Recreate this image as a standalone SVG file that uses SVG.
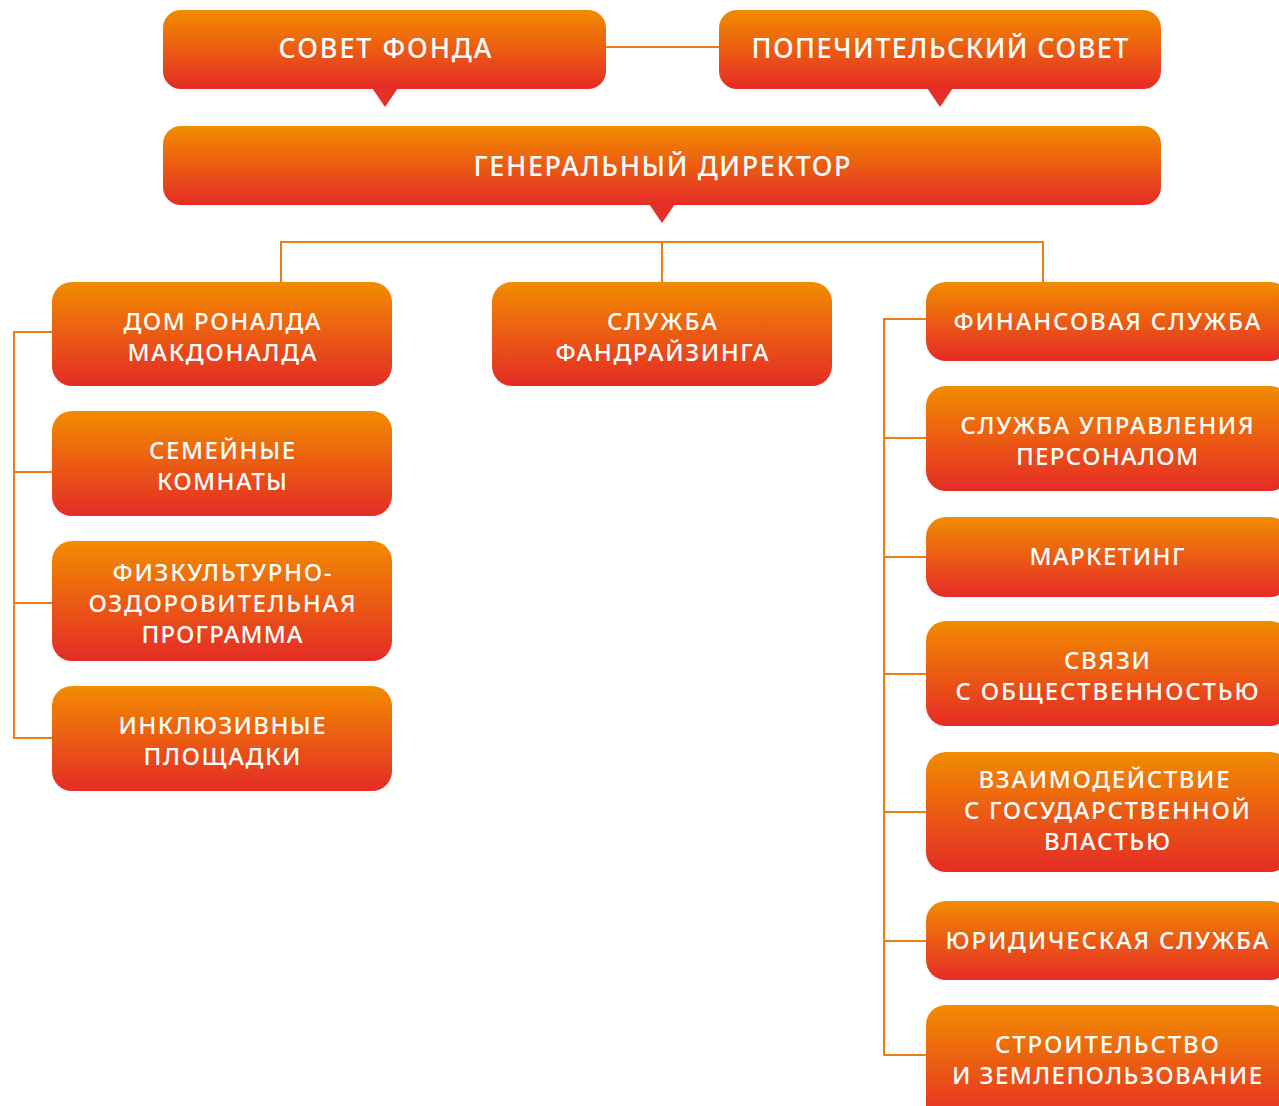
<svg xmlns="http://www.w3.org/2000/svg" width="1279" height="1106" viewBox="0 0 1279 1106">
<defs>
<linearGradient id="g" x1="0" y1="0" x2="0" y2="1">
<stop offset="0" stop-color="#F28C00"/>
<stop offset="1" stop-color="#E52B26"/>
</linearGradient>
<style>
.box{fill:url(#g)}
.ptr{fill:#E5302A}
.t{font-family:"Noto Sans","Open Sans","Liberation Sans",sans-serif;font-weight:500;fill:#fff;text-anchor:middle;font-size:24px}
.tb{font-size:27px}
.ln{stroke:#EE7D11;stroke-width:2;fill:none}
</style>
</defs>
<rect width="1279" height="1106" fill="#fff"/>
<g id="connectors">
<path class="ln" d="M606 47H719"/>
<path class="ln" d="M281 282V242H1043V282M662 242V282"/>
<path class="ln" d="M52 332H14V738H52M14 472H52M14 603H52"/>
<path class="ln" d="M926 319H884V1055H926M884 438H926M884 557H926M884 674H926M884 812H926M884 941H926"/>
</g>
<g id="sovet">
<path class="ptr" d="M372 88L398 88L385 107Z"/>
<rect class="box" x="163" y="10" width="443" height="79" rx="18"/>
<text class="t tb" x="385" y="58" textLength="213" lengthAdjust="spacing">СОВЕТ ФОНДА</text>
</g>
<g id="popech">
<path class="ptr" d="M927 88L953 88L940 107Z"/>
<rect class="box" x="719" y="10" width="442" height="79" rx="18"/>
<text class="t tb" x="940" y="58" textLength="377" lengthAdjust="spacing">ПОПЕЧИТЕЛЬСКИЙ СОВЕТ</text>
</g>
<g id="gendir">
<path class="ptr" d="M649 204L675 204L662 223Z"/>
<rect class="box" x="163" y="126" width="998" height="79" rx="18"/>
<text class="t tb" x="662" y="176" textLength="377" lengthAdjust="spacing">ГЕНЕРАЛЬНЫЙ ДИРЕКТОР</text>
</g>
<g id="dom">
<rect class="box" x="52" y="282" width="340" height="104" rx="20"/>
<text class="t" x="222" y="330" textLength="197" lengthAdjust="spacing">ДОМ РОНАЛДА</text>
<text class="t" x="222" y="361" textLength="189" lengthAdjust="spacing">МАКДОНАЛДА</text>
</g>
<g id="semeinye">
<rect class="box" x="52" y="411" width="340" height="105" rx="20"/>
<text class="t" x="222" y="459" textLength="146" lengthAdjust="spacing">СЕМЕЙНЫЕ</text>
<text class="t" x="222" y="490" textLength="130" lengthAdjust="spacing">КОМНАТЫ</text>
</g>
<g id="fizkult">
<rect class="box" x="52" y="541" width="340" height="120" rx="20"/>
<text class="t" x="222" y="581" textLength="219" lengthAdjust="spacing">ФИЗКУЛЬТУРНО-</text>
<text class="t" x="222" y="612" textLength="267" lengthAdjust="spacing">ОЗДОРОВИТЕЛЬНАЯ</text>
<text class="t" x="222" y="643" textLength="161" lengthAdjust="spacing">ПРОГРАММА</text>
</g>
<g id="inkl">
<rect class="box" x="52" y="686" width="340" height="105" rx="20"/>
<text class="t" x="222" y="734" textLength="207" lengthAdjust="spacing">ИНКЛЮЗИВНЫЕ</text>
<text class="t" x="222" y="765" textLength="157" lengthAdjust="spacing">ПЛОЩАДКИ</text>
</g>
<g id="fandr">
<rect class="box" x="492" y="282" width="340" height="104" rx="20"/>
<text class="t" x="662" y="330" textLength="110" lengthAdjust="spacing">СЛУЖБА</text>
<text class="t" x="662" y="361" textLength="213" lengthAdjust="spacing">ФАНДРАЙЗИНГА</text>
</g>
<g id="fin">
<rect class="box" x="926" y="282" width="364" height="79" rx="20"/>
<text class="t" x="1107" y="330" textLength="307" lengthAdjust="spacing">ФИНАНСОВАЯ СЛУЖБА</text>
</g>
<g id="hr">
<rect class="box" x="926" y="386" width="364" height="105" rx="20"/>
<text class="t" x="1107" y="434" textLength="293" lengthAdjust="spacing">СЛУЖБА УПРАВЛЕНИЯ</text>
<text class="t" x="1107" y="465" textLength="182" lengthAdjust="spacing">ПЕРСОНАЛОМ</text>
</g>
<g id="marketing">
<rect class="box" x="926" y="517" width="364" height="80" rx="20"/>
<text class="t" x="1107" y="565" textLength="155" lengthAdjust="spacing">МАРКЕТИНГ</text>
</g>
<g id="pr">
<rect class="box" x="926" y="621" width="364" height="105" rx="20"/>
<text class="t" x="1107" y="669" textLength="86" lengthAdjust="spacing">СВЯЗИ</text>
<text class="t" x="1107" y="700" textLength="303" lengthAdjust="spacing">С ОБЩЕСТВЕННОСТЬЮ</text>
</g>
<g id="gov">
<rect class="box" x="926" y="752" width="364" height="120" rx="20"/>
<text class="t" x="1104" y="788" textLength="251" lengthAdjust="spacing">ВЗАИМОДЕЙСТВИЕ</text>
<text class="t" x="1107" y="819" textLength="286" lengthAdjust="spacing">С ГОСУДАРСТВЕННОЙ</text>
<text class="t" x="1107" y="850" textLength="126" lengthAdjust="spacing">ВЛАСТЬЮ</text>
</g>
<g id="legal">
<rect class="box" x="926" y="901" width="364" height="79" rx="20"/>
<text class="t" x="1107" y="949" textLength="323" lengthAdjust="spacing">ЮРИДИЧЕСКАЯ СЛУЖБА</text>
</g>
<g id="build">
<rect class="box" x="926" y="1005" width="364" height="120" rx="20"/>
<text class="t" x="1107" y="1053" textLength="224" lengthAdjust="spacing">СТРОИТЕЛЬСТВО</text>
<text class="t" x="1107" y="1084" textLength="310" lengthAdjust="spacing">И ЗЕМЛЕПОЛЬЗОВАНИЕ</text>
</g>
</svg>
